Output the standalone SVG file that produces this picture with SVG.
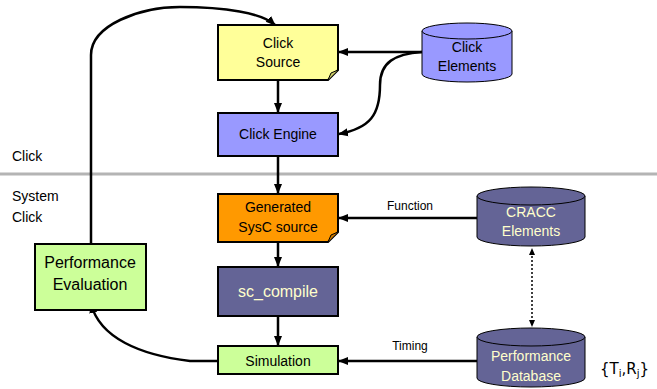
<svg xmlns="http://www.w3.org/2000/svg" width="657" height="389" viewBox="0 0 657 389">
<defs>
<marker id="ahs" viewBox="0 0 10 10" refX="9" refY="5" markerWidth="10" markerHeight="10" orient="auto-start-reverse" markerUnits="userSpaceOnUse">
<path d="M0,1 L10,5 L0,9 z" fill="#000"/>
</marker>
</defs>
<style>
text{font-family:"Liberation Sans",Arial,sans-serif;font-size:14px;fill:#000}
.box{stroke:#000;stroke-width:2}
.lt{fill:#ffffcc}
.c{stroke:#000;stroke-width:2.5;fill:none;marker-end:url(#ahs)}
.cyl{stroke:#000;stroke-width:1}
.lbl{font-size:12px}
</style>
<rect width="657" height="389" fill="#fff"/>
<line x1="0" y1="174" x2="657" y2="174" stroke="#b4b4b4" stroke-width="3"/>
<text x="12" y="161">Click</text>
<text x="12" y="201">System</text>
<text x="12" y="222">Click</text>
<g id="connectors">
<path class="c" d="M91,244 L91,55 C91,25 140,7 180,7 C225,7 262,13 275,25"/>
<path class="c" d="M218,361 L190,361 C140,355 100,338 91,304"/>
<line class="c" x1="278" y1="80" x2="278" y2="112"/>
<line class="c" x1="278" y1="156" x2="278" y2="193"/>
<line class="c" x1="278" y1="242" x2="278" y2="266"/>
<line class="c" x1="278" y1="316" x2="278" y2="345"/>
<line class="c" x1="422" y1="52" x2="339" y2="52"/>
<path class="c" d="M422,52 C395,54 380,62 380,85 C380,115 370,128 339,134"/>
<line class="c" x1="477" y1="218" x2="339" y2="218"/>
<line class="c" x1="477" y1="361" x2="339" y2="361"/>
<line x1="532" y1="252" x2="532" y2="324" stroke="#000" stroke-width="1.5" stroke-dasharray="2,2"/>
<path d="M532,248 L529,255 L535,255 z M532,327 L529,320 L535,320 z" fill="#000"/>
<text class="lbl" x="410" y="210" text-anchor="middle">Function</text>
<text class="lbl" x="410" y="350" text-anchor="middle">Timing</text>
</g>
<g id="click-source">
<path class="box" d="M218,25 H338 V70 L328,80 H218 Z" fill="#ffff99"/>
<path d="M328,80 L331,73 L338,70" fill="#cccc66" stroke="#000" stroke-width="1"/>
<text x="278" y="48" text-anchor="middle">Click</text>
<text x="278" y="67" text-anchor="middle">Source</text>
</g>
<g id="click-engine">
<rect class="box" x="218" y="113" width="120" height="43" fill="#9999ff"/>
<text x="278" y="139" text-anchor="middle">Click Engine</text>
</g>
<g id="generated">
<path class="box" d="M218,194 H338 V232 L328,242 H218 Z" fill="#ff9900"/>
<path d="M328,242 L331,235 L338,232" fill="#cc7a00" stroke="#000" stroke-width="1"/>
<text x="278" y="212" text-anchor="middle">Generated</text>
<text x="278" y="232" text-anchor="middle">SysC source</text>
</g>
<g id="sc-compile">
<rect class="box" x="218" y="267" width="120" height="49" fill="#646496"/>
<text class="lt" x="278" y="297" text-anchor="middle" style="font-size:16px">sc_compile</text>
</g>
<g id="simulation">
<rect class="box" x="218" y="346" width="120" height="28" fill="#ccff99"/>
<text x="278" y="366" text-anchor="middle">Simulation</text>
</g>
<g id="perf-eval">
<rect class="box" x="35" y="244" width="111" height="66" fill="#ccff99"/>
<text x="90" y="268" text-anchor="middle" style="font-size:16px">Performance</text>
<text x="90" y="290" text-anchor="middle" style="font-size:16px">Evaluation</text>
</g>
<g id="click-elements">
<path class="cyl" d="M422,31 V74 A45,8 0 0 0 512,74 V31" fill="#9999ff"/>
<ellipse class="cyl" cx="467" cy="31" rx="45" ry="8" fill="#9999ff"/>
<text x="467" y="52" text-anchor="middle">Click</text>
<text x="467" y="71" text-anchor="middle">Elements</text>
</g>
<g id="cracc-elements">
<path class="cyl" d="M477,196 V237 A54,9 0 0 0 585,237 V196" fill="#646496"/>
<ellipse class="cyl" cx="531" cy="196" rx="54" ry="9" fill="#646496"/>
<text class="lt" x="531" y="217" text-anchor="middle">CRACC</text>
<text class="lt" x="531" y="236" text-anchor="middle">Elements</text>
</g>
<g id="perf-db">
<path class="cyl" d="M477,337 V378 A54,9 0 0 0 585,378 V337" fill="#646496"/>
<ellipse class="cyl" cx="531" cy="337" rx="54" ry="9" fill="#646496"/>
<text class="lt" x="531" y="361" text-anchor="middle">Performance</text>
<text class="lt" x="531" y="381" text-anchor="middle">Database</text>
</g>
<text x="600" y="374" style="font-family:'DejaVu Sans',sans-serif;font-size:15px">{T<tspan font-size="10" dy="3">i</tspan><tspan dy="-3">,R</tspan><tspan font-size="10" dy="3">j</tspan><tspan dy="-3">}</tspan></text>
</svg>
